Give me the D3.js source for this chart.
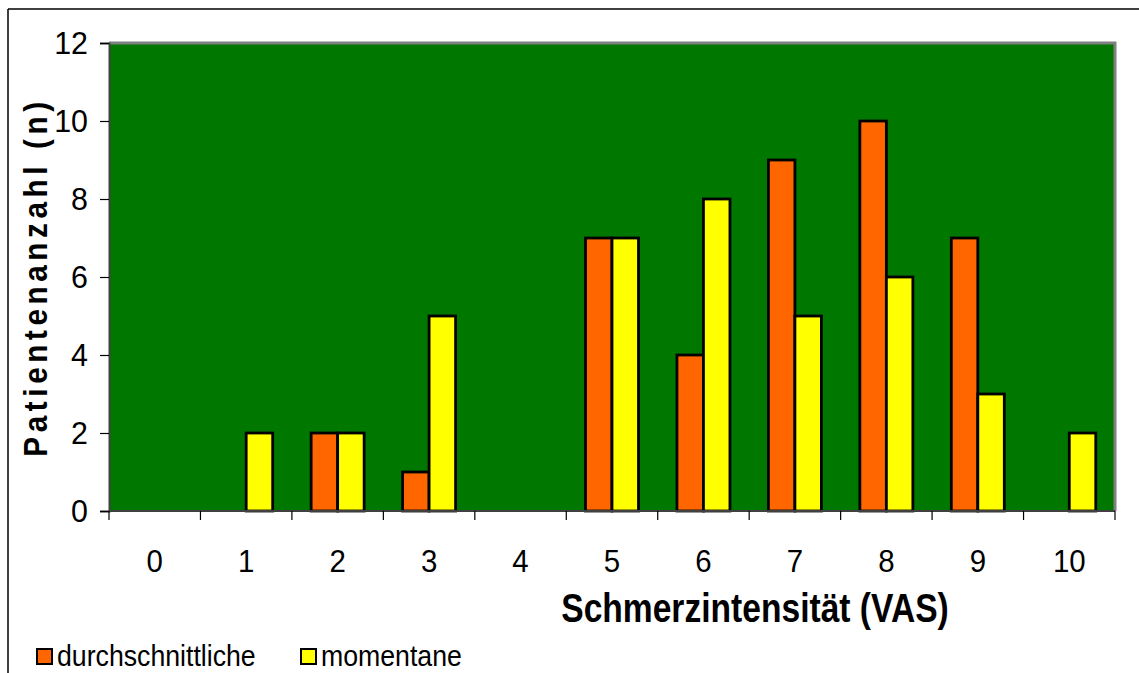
<!DOCTYPE html>
<html>
<head>
<meta charset="utf-8">
<script src="https://cdn.jsdelivr.net/npm/d3@7"></script>
<style>
  html, body { margin: 0; padding: 0; background: #fff; }
  svg { display: block; font-family: Arial, "Liberation Sans", sans-serif; }
</style>
</head>
<body>
<svg id="chart" width="1139" height="673"></svg>
<script>
// Pain intensity (VAS 0–10) and number of patients
const categories = ["0", "1", "2", "3", "4", "5", "6", "7", "8", "9", "10"];
const durchschnittliche = [0, 0, 2, 1, 0, 7, 4, 9, 10, 7, 0];
const momentane = [0, 2, 2, 5, 0, 7, 8, 5, 6, 3, 2];
const seriesNames = ["durchschnittliche", "momentane"];
const yTicks = [0, 2, 4, 6, 8, 10, 12];

const colors = { durchschnittliche: "#ff6600", momentane: "#ffff00" };

const svg = d3.select("#chart");
const W = 1139, H = 673;
const plot = { left: 109, right: 1115, top: 43, bottom: 511 };

// outer frame (left and top edges)
svg.append("line").attr("x1", 8).attr("y1", 9).attr("x2", W).attr("y2", 9)
  .attr("stroke", "#000").attr("stroke-width", 1.5);
svg.append("line").attr("x1", 8).attr("y1", 9).attr("x2", 8).attr("y2", H)
  .attr("stroke", "#000").attr("stroke-width", 1.5);

const x = d3.scaleBand().domain(categories).range([plot.left, plot.right]).padding(0);
const y = d3.scaleLinear().domain([0, 12]).range([plot.bottom, plot.top]);
const barW = 26.5;

// plot background
svg.append("rect")
  .attr("x", plot.left).attr("y", plot.top)
  .attr("width", plot.right - plot.left).attr("height", plot.bottom - plot.top)
  .attr("fill", "#007800");
// gray top and right edges of the plot area
svg.append("path")
  .attr("d", `M${plot.left},${plot.top} H${plot.right} V${plot.bottom}`)
  .attr("fill", "none").attr("stroke", "#808080").attr("stroke-width", 3);

// scaled text helper (condensed glyphs)
function label(g, txt, px, py, size, anchor, weight, sx) {
  return g.append("text")
    .attr("transform", `translate(${px},${py}) scale(${sx},1)`)
    .attr("text-anchor", anchor)
    .attr("font-size", size)
    .attr("font-weight", weight || "normal")
    .attr("fill", "#000")
    .text(txt);
}

// bars
const bars = svg.append("g");
categories.forEach((c, i) => {
  const cx = x(c) + x.bandwidth() / 2;
  const vals = [durchschnittliche[i], momentane[i]];
  vals.forEach((v, k) => {
    if (v <= 0) return;
    bars.append("rect")
      .attr("x", k === 0 ? cx - barW : cx)
      .attr("y", y(v))
      .attr("width", barW)
      .attr("height", y(0) - y(v))
      .attr("fill", colors[seriesNames[k]])
      .attr("stroke", "#000")
      .attr("stroke-width", 2.8);
  });
});

// y axis
const yAxis = svg.append("g").attr("transform", `translate(${plot.left},0)`)
  .call(d3.axisLeft(y).tickValues(yTicks).tickSize(9).tickFormat(""));
yAxis.select(".domain").attr("stroke", "#404040").attr("stroke-width", 2);
yAxis.selectAll(".tick line").attr("stroke", "#000").attr("stroke-width", 1.2);
yTicks.forEach(t => {
  label(svg, String(t), 88, y(t) + 11, 32, "end", "normal", 0.95);
});

// x axis: ticks at category boundaries
const xAxisG = svg.append("g").attr("transform", `translate(0,${plot.bottom})`);
xAxisG.append("line").attr("x1", plot.left).attr("x2", plot.right)
  .attr("stroke", "#404040").attr("stroke-width", 2);
const bounds = categories.map(c => x(c)).concat([x(categories[categories.length - 1]) + x.bandwidth()]);
xAxisG.selectAll("line.tk").data(bounds).enter().append("line")
  .attr("class", "tk")
  .attr("x1", d => d).attr("x2", d => d)
  .attr("y1", 0).attr("y2", 9)
  .attr("stroke", "#000").attr("stroke-width", 1.2);
categories.forEach(c => {
  label(svg, c, x(c) + x.bandwidth() / 2, 572, 31, "middle", "normal", 0.95);
});

// axis titles
label(svg, "Schmerzintensität (VAS)", 755, 622, 40, "middle", "bold", 0.84);
svg.append("text")
  .attr("transform", "translate(47,277) rotate(-90) scale(0.9,1)")
  .attr("text-anchor", "middle")
  .attr("font-size", 33)
  .attr("font-weight", "bold")
  .attr("letter-spacing", 5.1)
  .text("Patientenanzahl (n)");

// legend
const legendItems = [
  { name: seriesNames[0], x: 36 },
  { name: seriesNames[1], x: 300 }
];
legendItems.forEach(it => {
  svg.append("rect")
    .attr("x", it.x + 1).attr("y", 649).attr("width", 15).attr("height", 15)
    .attr("fill", colors[it.name]).attr("stroke", "#000").attr("stroke-width", 2);
  label(svg, it.name, it.x + 21, 666, 30, "start", "normal", 0.89);
});
</script>
</body>
</html>
